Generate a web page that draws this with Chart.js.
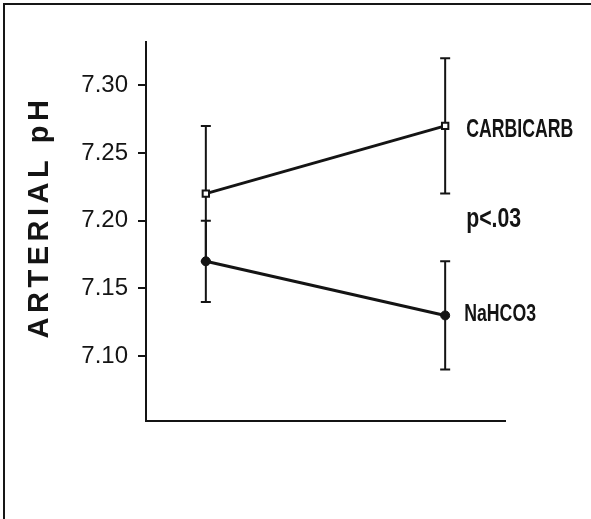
<!DOCTYPE html>
<html>
<head>
<meta charset="utf-8">
<script src="https://cdn.jsdelivr.net/npm/chart.js@4.4.1/dist/chart.umd.min.js"></script>
<style>
  body { margin: 0; background: #fff; }
  #wrap { position: relative; width: 591px; height: 519px; overflow: hidden; }
  #frame {
    position: absolute; left: 3px; top: 3px; right: -5px; bottom: -5px;
    border-top: 2px solid #161616; border-left: 2px solid #161616;
    pointer-events: none;
  }
  canvas { display: block; }
</style>
</head>
<body>
<div id="wrap">
  <canvas id="chart" width="591" height="519"></canvas>
  <div id="frame"></div>
</div>
<script>
// time points (before / after), no labels on the x axis
const timePoints = [1, 2];

const carbicarbMean = [7.22, 7.27];
const carbicarbLow = [7.17, 7.22];
const carbicarbHigh = [7.27, 7.32];

const nahco3Mean = [7.17, 7.13];
const nahco3Low = [7.14, 7.09];
const nahco3High = [7.20, 7.17];

const yTicks = [7.10, 7.15, 7.20, 7.25, 7.30];
const yTitle = "ARTERIAL pH";
const seriesNames = ["CARBICARB", "NaHCO3"];
const pLabel = "p<.03";
const pLabelValue = 7.20;

const ink = "#141414";

const toPoints = values => values.map((v, i) => ({ x: timePoints[i], y: v }));

const errorBars = {
  id: "errorBars",
  beforeDatasetsDraw(chart) {
    const { ctx, scales } = chart;
    const sets = [
      [carbicarbLow, carbicarbHigh],
      [nahco3Low, nahco3High],
    ];
    ctx.save();
    ctx.strokeStyle = ink;
    ctx.lineWidth = 2;
    sets.forEach(([low, high]) => {
      timePoints.forEach((t, i) => {
        const x = scales.x.getPixelForValue(t);
        const y1 = scales.y.getPixelForValue(low[i]);
        const y2 = scales.y.getPixelForValue(high[i]);
        ctx.beginPath();
        ctx.moveTo(x, y1);
        ctx.lineTo(x, y2);
        ctx.moveTo(x - 5, y1);
        ctx.lineTo(x + 5, y1);
        ctx.moveTo(x - 5, y2);
        ctx.lineTo(x + 5, y2);
        ctx.stroke();
      });
    });
    ctx.restore();
  },
};

// condensed text helper, the original labels are a narrow face
const narrowText = (ctx, text, x, y, font, sx) => {
  ctx.save();
  ctx.font = font;
  ctx.textBaseline = "middle";
  ctx.textAlign = "left";
  ctx.translate(x, y);
  ctx.scale(sx, 1);
  ctx.fillText(text, 0, 0);
  ctx.restore();
};

const labels = {
  id: "labels",
  afterDraw(chart) {
    const { ctx, scales } = chart;
    const last = timePoints.length - 1;
    const xr = scales.x.getPixelForValue(timePoints[last]) + 21;
    ctx.save();
    ctx.fillStyle = ink;
    narrowText(ctx, seriesNames[0], xr, scales.y.getPixelForValue(carbicarbMean[last]) + 4,
      "bold 26px 'Liberation Sans', Arial, sans-serif", 0.68);
    narrowText(ctx, seriesNames[1], xr - 2, scales.y.getPixelForValue(nahco3Mean[last]) - 1,
      "bold 23px 'Liberation Sans', Arial, sans-serif", 0.77);
    narrowText(ctx, pLabel, xr, scales.y.getPixelForValue(pLabelValue) - 1,
      "bold 28px 'Liberation Sans', Arial, sans-serif", 0.76);

    // rotated axis title with letter spacing
    ctx.translate(40, 219);
    ctx.rotate(-Math.PI / 2);
    ctx.font = "bold 29px 'Liberation Sans', Arial, sans-serif";
    if ("letterSpacing" in ctx) ctx.letterSpacing = "4.5px";
    ctx.textAlign = "center";
    ctx.textBaseline = "middle";
    ctx.fillText(yTitle, 2, 0);
    ctx.restore();
  },
};

new Chart(document.getElementById("chart"), {
  type: "line",
  data: {
    datasets: [
      {
        label: seriesNames[0],
        data: toPoints(carbicarbMean),
        borderColor: ink,
        borderWidth: 3,
        pointStyle: "rect",
        pointRadius: 4.5,
        pointBackgroundColor: "#fff",
        pointBorderColor: ink,
        pointBorderWidth: 2,
        tension: 0,
      },
      {
        label: seriesNames[1],
        data: toPoints(nahco3Mean),
        borderColor: ink,
        borderWidth: 3,
        pointStyle: "circle",
        pointRadius: 4.5,
        pointBackgroundColor: ink,
        pointBorderColor: ink,
        pointBorderWidth: 1,
        tension: 0,
      },
    ],
  },
  options: {
    responsive: false,
    animation: false,
    events: [],
    layout: { padding: { left: 0, top: 42, right: 86, bottom: 98 } },
    plugins: {
      legend: { display: false },
      tooltip: { enabled: false },
    },
    scales: {
      x: {
        type: "linear",
        min: 0.75,
        max: 2.25,
        grid: { display: false, drawTicks: false },
        ticks: { display: false },
        border: { display: true, color: ink, width: 2 },
      },
      y: {
        type: "linear",
        min: 7.052,
        max: 7.332,
        afterBuildTicks: scale => {
          scale.ticks = yTicks.map(v => ({ value: v }));
        },
        afterFit: scale => {
          scale.width = 146;
        },
        grid: {
          drawOnChartArea: false,
          drawTicks: true,
          tickLength: 8,
          color: ink,
          lineWidth: 2,
        },
        border: { display: true, color: ink, width: 2 },
        ticks: {
          color: ink,
          padding: 10,
          font: { family: "'Liberation Sans', Arial, sans-serif", size: 24 },
          callback: v => v.toFixed(2),
        },
      },
    },
  },
  plugins: [errorBars, labels],
});
</script>
</body>
</html>
